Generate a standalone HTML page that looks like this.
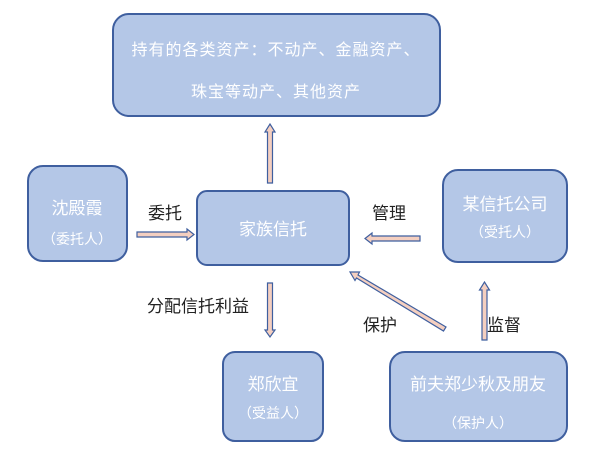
<!DOCTYPE html>
<html><head><meta charset="utf-8"><style>
body{margin:0;background:#fff;width:600px;height:459px;overflow:hidden;font-family:"Liberation Sans","Noto Sans CJK SC",sans-serif}
</style></head><body>
<svg width="600" height="459" xmlns="http://www.w3.org/2000/svg" font-family="Liberation Sans, Noto Sans CJK SC, sans-serif">
<g fill="#b4c7e7" stroke="#3f5f9f" stroke-width="2">
<rect x="113" y="14" width="327" height="102" rx="16"/>
<rect x="28" y="166" width="99" height="95" rx="15"/>
<rect x="197" y="191" width="152" height="74" rx="10"/>
<rect x="443" y="170" width="124" height="92" rx="15"/>
<rect x="223" y="352" width="100" height="89" rx="12"/>
<rect x="390" y="352" width="177" height="89" rx="15"/>
</g>
<g fill="#fff" font-size="16" text-anchor="middle">
<text x="276" y="55" letter-spacing="1">持有的各类资产：不动产、金融资产、</text>
<text x="276" y="97" letter-spacing="1">珠宝等动产、其他资产</text>
<text x="77" y="214" font-size="17">沈殿霞</text>
<text x="77" y="244" font-size="14">（委托人）</text>
<text x="273" y="235" font-size="17">家族信托</text>
<text x="505" y="210" font-size="17">某信托公司</text>
<text x="505" y="237" font-size="14">（受托人）</text>
<text x="273" y="390" font-size="17">郑欣宜</text>
<text x="273" y="418" font-size="14">（受益人）</text>
<text x="478" y="390" font-size="17">前夫郑少秋及朋友</text>
<text x="478" y="428" font-size="14">（保护人）</text>
</g>
<g fill="#f4cfc0" stroke="#3f5f9f" stroke-width="1.2">
<polygon points="267.5,183 272.5,183 272.5,132 275,132 270,124 265,132 267.5,132"/>
<polygon points="137,232 187,232 187,229 194,234.5 187,240 187,237 137,237"/>
<polygon points="420,236 372,236 372,233 365,238.5 372,244 372,241 420,241"/>
<polygon points="267.5,283 272.5,283 272.5,330 275,330 270,337 265,330 267.5,330"/>
<polygon points="446,327 358,275 359.5,272 350,272 355,280.5 356.5,278 443.5,331"/>
<polygon points="482,340 487,340 487,290 489.5,290 484.5,282 479.5,290 482,290"/>
</g>
<g fill="#222" font-size="17">
<text x="148" y="219">委托</text>
<text x="372" y="219">管理</text>
<text x="147" y="312">分配信托利益</text>
<text x="363" y="331">保护</text>
<text x="487" y="331">监督</text>
</g>
</svg>
</body></html>
